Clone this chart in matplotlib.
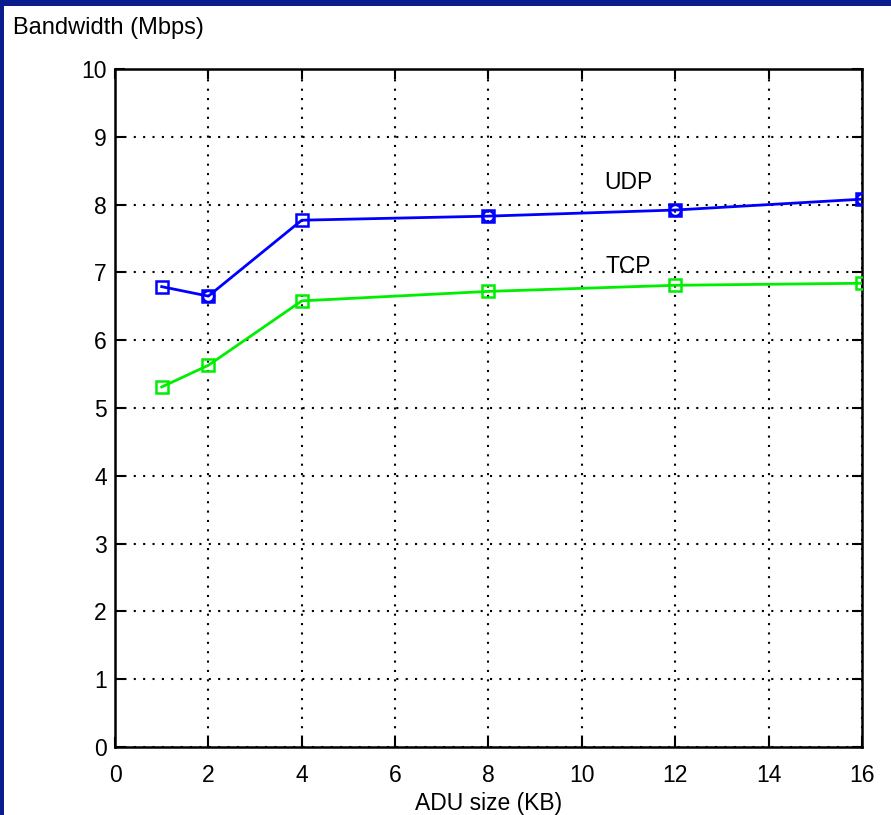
import numpy as np
import matplotlib.pyplot as plt
from matplotlib.patches import Rectangle

plt.rcParams['font.family'] = ['Liberation Sans', 'DejaVu Sans']

# ADU sizes (KB) and measured bandwidth (Mbps)
adu_kb = [1, 2, 4, 8, 12, 16]
udp_mbps = [6.79, 6.65, 7.77, 7.83, 7.92, 8.08]
tcp_mbps = [5.31, 5.63, 6.58, 6.72, 6.81, 6.84]
udp_circle_idx = [1, 3, 4, 5]   # points that also carry a circle marker

x_ticks = [0, 2, 4, 6, 8, 10, 12, 14, 16]
y_ticks = [0, 1, 2, 3, 4, 5, 6, 7, 8, 9, 10]

fig = plt.figure(figsize=(8.91, 8.15), dpi=100)
fig.patch.set_facecolor('white')

# slide border strips
navy = '#0b1d8c'
fig.patches.append(Rectangle((0, 1 - 6 / 815), 1, 6 / 815, transform=fig.transFigure,
                             facecolor=navy, edgecolor='none', zorder=0))
fig.patches.append(Rectangle((0, 0), 4 / 891, 1, transform=fig.transFigure,
                             facecolor=navy, edgecolor='none', zorder=0))

ax = fig.add_axes([115 / 891, 1 - 747 / 815, (862 - 115) / 891, (747 - 69) / 815])

ax.plot(adu_kb, udp_mbps, color='#0000ff', lw=2.0, marker='s', ms=8,
        mfc='none', mec='#0000ff', mew=1.8, zorder=3)
ax.plot([adu_kb[i] for i in udp_circle_idx], [udp_mbps[i] for i in udp_circle_idx],
        linestyle='none', marker='o', ms=8, mfc='none', mec='#0000ff', mew=1.8, zorder=3)
ax.plot(adu_kb, tcp_mbps, color='#00ee00', lw=2.0, marker='s', ms=8,
        mfc='none', mec='#00ee00', mew=1.8, zorder=3)

ax.text(11.0, 8.33, 'UDP', fontsize=16.5, ha='center', va='center')
ax.text(11.0, 7.08, 'TCP', fontsize=16.5, ha='center', va='center')

ax.set_xlim(0, 16)
ax.set_ylim(0, 10)
ax.set_xticks(x_ticks)
ax.set_yticks(y_ticks)
ax.tick_params(direction='in', top=True, right=True, length=7, width=1.5,
               labelsize=16.5)
ax.tick_params(axis='x', pad=12)
ax.tick_params(axis='y', pad=6)
ax.grid(True, color='black', linestyle=(0, (1, 3.5)), lw=1.5)
for s in ax.spines.values():
    s.set_linewidth(1.8)

ax.set_xlabel('ADU size (KB)', fontsize=16.5, labelpad=4)
fig.text(13 / 891, 1 - 28 / 815, 'Bandwidth (Mbps)', fontsize=17, ha='left', va='center')

fig.savefig('out.png', dpi=100)
